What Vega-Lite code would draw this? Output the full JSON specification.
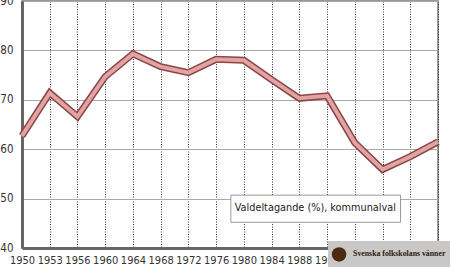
{
  "$schema": "https://vega.github.io/schema/vega-lite/v6.json",
  "autosize": "none",
  "width": 416,
  "height": 247,
  "padding": {"left": 22, "top": 1, "right": 12, "bottom": 19},
  "background": "white",
  "config": {
    "view": {"stroke": "#777", "strokeWidth": 1.5},
    "font": "DejaVu Sans Condensed, Liberation Sans"
  },
  "datasets": {
    "turnout": [
      {"year": "1950", "turnout": 62.7},
      {"year": "1953", "turnout": 71.4},
      {"year": "1956", "turnout": 66.6},
      {"year": "1960", "turnout": 74.7},
      {"year": "1964", "turnout": 79.3},
      {"year": "1968", "turnout": 76.7},
      {"year": "1972", "turnout": 75.5},
      {"year": "1976", "turnout": 78.2},
      {"year": "1980", "turnout": 78.0},
      {"year": "1984", "turnout": 74.1},
      {"year": "1988", "turnout": 70.3},
      {"year": "1991", "turnout": 70.8},
      {"year": "1994", "turnout": 61.3},
      {"year": "1998", "turnout": 55.9},
      {"year": "2002", "turnout": 58.5},
      {"year": "2006", "turnout": 61.5}
    ],
    "note": [
      {"label": "Valdeltagande (%), kommunalval", "x1": "1980", "x2": "1998", "xm": "1988", "ytop": 50.7, "ybot": 45.2, "ymid": 48.1}
    ],
    "logo": [
      {"label": "Svenska folkskolans vänner", "x1": "1991", "x2": "2006", "ytop": 41.4, "ybot": 35.8, "ymid": 38.7}
    ]
  },
  "layer": [
    {
      "data": {"name": "turnout"},
      "mark": {"type": "line", "color": "#8a4545", "strokeWidth": 7, "strokeJoin": "miter"},
      "encoding": {
        "x": {
          "field": "year",
          "type": "ordinal",
          "scale": {"type": "point", "padding": 0},
          "axis": {
            "title": null,
            "zindex": 0,
            "labelAngle": 0,
            "labelFontSize": 11,
            "labelColor": "#333",
            "labelPadding": 6,
            "ticks": false,
            "domainColor": "#666",
            "domainWidth": 3,
            "grid": true,
            "gridColor": "#333",
            "gridDash": [1, 1.5],
            "gridWidth": 1
          }
        },
        "y": {
          "field": "turnout",
          "type": "quantitative",
          "scale": {"domain": [40, 90], "nice": false, "zero": false},
          "axis": {
            "title": null,
            "zindex": 0,
            "values": [40, 50, 60, 70, 80, 90],
            "labelFontSize": 11.5,
            "labelColor": "#333",
            "labelPadding": 9,
            "ticks": false,
            "domainColor": "#666",
            "domainWidth": 3,
            "grid": true,
            "gridColor": "#aaa",
            "gridWidth": 1
          }
        }
      }
    },
    {
      "data": {"name": "turnout"},
      "mark": {"type": "line", "color": "#e3a3a3", "strokeWidth": 4, "strokeJoin": "miter"},
      "encoding": {
        "x": {"field": "year", "type": "ordinal"},
        "y": {"field": "turnout", "type": "quantitative"}
      }
    },
    {
      "data": {"name": "note"},
      "mark": {"type": "rect", "fill": "white", "stroke": "#999", "strokeWidth": 1, "xOffset": -13, "x2Offset": 18},
      "encoding": {
        "x": {"field": "x1", "type": "ordinal"},
        "x2": {"field": "x2"},
        "y": {"field": "ytop", "type": "quantitative"},
        "y2": {"field": "ybot"}
      }
    },
    {
      "data": {"name": "note"},
      "mark": {"type": "text", "fontSize": 10.8, "color": "#222", "align": "center", "baseline": "middle", "xOffset": 16},
      "encoding": {
        "x": {"field": "xm", "type": "ordinal"},
        "y": {"field": "ymid", "type": "quantitative"},
        "text": {"field": "label"}
      }
    },
    {
      "data": {"name": "logo"},
      "mark": {"type": "rect", "fill": "#c9c8c6", "xOffset": 1, "x2Offset": 14},
      "encoding": {
        "x": {"field": "x1", "type": "ordinal"},
        "x2": {"field": "x2"},
        "y": {"field": "ytop", "type": "quantitative"},
        "y2": {"field": "ybot"}
      }
    },
    {
      "data": {"name": "logo"},
      "mark": {"type": "point", "filled": true, "color": "#4a2a10", "size": 210, "opacity": 1, "xOffset": 12},
      "encoding": {
        "x": {"field": "x1", "type": "ordinal"},
        "y": {"field": "ymid", "type": "quantitative"}
      }
    },
    {
      "data": {"name": "logo"},
      "mark": {"type": "text", "font": "Liberation Serif", "fontWeight": "bold", "fontSize": 7.8, "color": "#2a1a10", "align": "left", "baseline": "middle", "xOffset": 26},
      "encoding": {
        "x": {"field": "x1", "type": "ordinal"},
        "y": {"field": "ymid", "type": "quantitative"},
        "text": {"field": "label"}
      }
    }
  ]
}
